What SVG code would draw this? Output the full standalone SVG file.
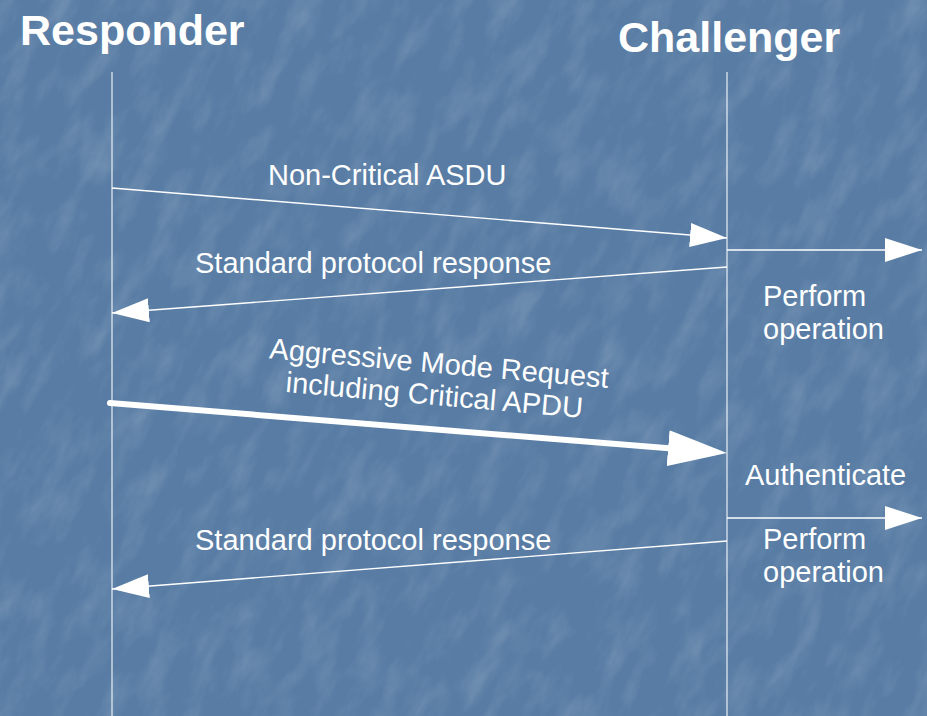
<svg xmlns="http://www.w3.org/2000/svg" width="927" height="716" viewBox="0 0 927 716">
  <defs>
    <style>
      .title { font-family: "Liberation Sans", Arial, sans-serif; font-weight: bold; fill: #ffffff; }
      .lbl { font-family: "Liberation Sans", Arial, sans-serif; font-size: 29px; fill: #ffffff; }
      .life { stroke: #e8eef5; stroke-width: 1.2; fill: none; }
      .msg { stroke: #ffffff; stroke-width: 1.4; fill: none; }
      .msg-thin { marker-end: url(#head); }
      .msg-bold { stroke: #ffffff; stroke-width: 6; stroke-linecap: round; fill: none; marker-end: url(#headBig); }
    </style>
    <marker id="head" markerUnits="userSpaceOnUse" viewBox="0 0 37 24" refX="37" refY="12" markerWidth="37" markerHeight="24" orient="auto">
      <path d="M0,0 L37,12 L0,24 z" fill="#ffffff"/>
    </marker>
    <!-- bold head: tip sits 27px past the end of its shaft -->
    <marker id="headBig" markerUnits="userSpaceOnUse" viewBox="0 0 59 36" refX="32" refY="18" markerWidth="59" markerHeight="36" orient="auto">
      <path d="M0,0 L59,18 L0,36 z" fill="#ffffff"/>
    </marker>
    <filter id="grain" x="0" y="0" width="100%" height="100%">
      <feTurbulence type="fractalNoise" baseFrequency="0.018 0.045" numOctaves="4" seed="7" result="n"/>
      <feColorMatrix in="n" type="matrix" values="0 0 0 0 1  0 0 0 0 1  0 0 0 0 1  0 0 0 1.4 -0.6"/>
    </filter>
  </defs>

  <!-- textured blue backdrop -->
  <rect width="927" height="716" fill="#587ca4"/>
  <g transform="rotate(-62 463 358)" opacity="0.2">
    <rect x="-300" y="-300" width="1527" height="1316" filter="url(#grain)"/>
  </g>

  <!-- participants -->
  <g id="responder">
    <text class="title" x="20" y="45" font-size="43">Responder</text>
    <line class="life" x1="112" y1="72" x2="112" y2="716"/>
  </g>
  <g id="challenger">
    <text class="title" x="618" y="52" font-size="43">Challenger</text>
    <line class="life" x1="727" y1="72" x2="727" y2="716"/>
  </g>

  <!-- messages -->
  <g id="connectors">
    <line class="msg msg-thin" x1="112" y1="188" x2="727" y2="238"/>
    <line class="msg msg-thin" x1="727" y1="250" x2="922" y2="250"/>
    <line class="msg msg-thin" x1="727" y1="267" x2="112" y2="313"/>
    <line class="msg-bold" x1="110" y1="403" x2="700" y2="450.8"/>
    <line class="msg msg-thin" x1="727" y1="518" x2="922" y2="518"/>
    <line class="msg msg-thin" x1="727" y1="541" x2="112" y2="589"/>
  </g>

  <!-- labels -->
  <g id="labels">
    <text class="lbl" x="268" y="185">Non-Critical ASDU</text>
    <text class="lbl" x="195" y="273">Standard protocol response</text>
    <text class="lbl" x="763" y="306">Perform</text>
    <text class="lbl" x="763" y="339">operation</text>
    <g transform="rotate(5 436 388)">
      <text class="lbl" x="437" y="373" text-anchor="middle">Aggressive Mode Request</text>
      <text class="lbl" x="435" y="405" text-anchor="middle">including Critical APDU</text>
    </g>
    <text class="lbl" x="745" y="485">Authenticate</text>
    <text class="lbl" x="195" y="550">Standard protocol response</text>
    <text class="lbl" x="763" y="549">Perform</text>
    <text class="lbl" x="763" y="582">operation</text>
  </g>
</svg>
